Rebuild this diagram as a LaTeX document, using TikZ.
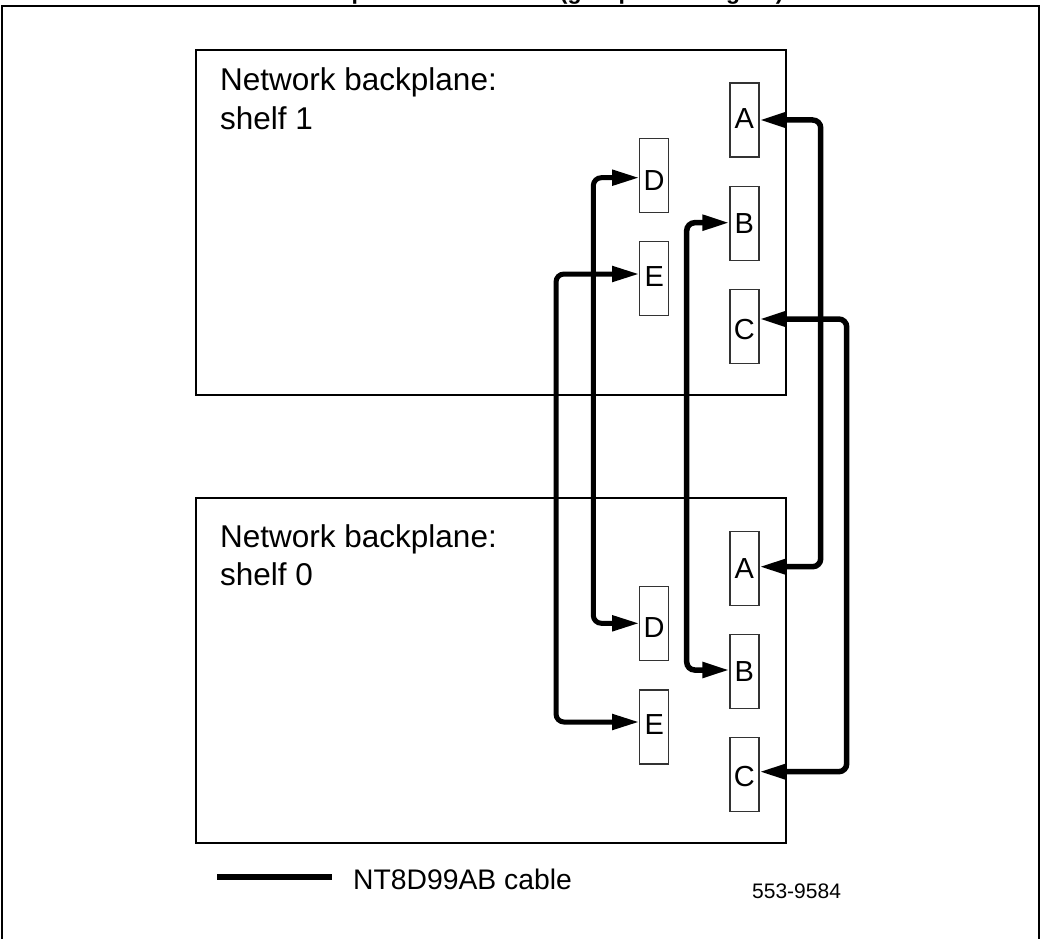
\documentclass[tikz,border=0pt]{standalone}
\usepackage{fontspec}
\setmainfont{Liberation Sans}
\usetikzlibrary{arrows.meta}
\tikzset{
  frameline/.style={line width=2pt,black},
  shelfbox/.style={draw=black,line width=2pt,fill=none,inner sep=0pt,minimum width=590.5pt,anchor=north west},
  port/.style={draw=black!80,line width=1.2pt,fill=white,inner sep=0pt,minimum width=29pt,minimum height=74pt,font=\fontsize{29}{29}\selectfont,text depth=0pt},
  cable/.style={line width=#1,black,rounded corners=8pt,{Triangle[length=27pt,width=15pt]}-{Triangle[length=27pt,width=15pt]}},
  shelflabel/.style={inner sep=0pt,anchor=north west,align=left,font=\fontsize{31.5}{38.5}\selectfont},
}
\begin{document}
\begin{tikzpicture}[x=1pt,y=-1pt]
\useasboundingbox (0,0) rectangle (1044,939);
\begin{scope}
\clip (0,0) rectangle (1044,939);
\node[inner sep=0pt,anchor=base west,font=\fontsize{23}{23}\selectfont\bfseries] (title) at (236.4,0) {Shelf backplane connections (group 4 and higher)};
\end{scope}
\draw[frameline] (2,940) -- (2,6) -- (1039,6) -- (1039,940);
\node[shelfbox,minimum height=344.5pt] (shelfA) at (194.7,49.5) {};
\node[shelfbox,minimum height=345pt] (shelfB) at (194.7,497) {};
\node[shelflabel] (shelfAt) at (220,67.5) {Network backplane:\\shelf 1};
\node[shelflabel] (shelfBt) at (220,524) {Network backplane:\\shelf 0};
% ports, upper shelf
\node[port,text height=18pt] (a1) at (744.4,120) {A};
\node[port,text height=20pt] (b1) at (744.4,223.3) {B};
\node[port,text height=26pt] (c1) at (744.4,326.3) {C};
\node[port,text height=29pt] (d1) at (654.2,175.5) {D};
\node[port,text height=15pt] (e1) at (654.2,278.7) {E};
% ports, lower shelf
\node[port,text height=20pt] (a0) at (744.4,568.3) {A};
\node[port,text height=20pt] (b0) at (744.4,671.5) {B};
\node[port,text height=24pt] (c0) at (744.4,774.8) {C};
\node[port,text height=27pt] (d0) at (654.2,623.8) {D};
\node[port,text height=15pt] (e0) at (654.2,727) {E};
% elbows
\coordinate (ka1) at (820.7,120);
\coordinate (ka0) at (820.7,566.7);
\coordinate (kb1) at (686.7,222.7);
\coordinate (kb0) at (686.7,670);
\coordinate (kc1) at (846.7,319);
\coordinate (kc0) at (846.7,771.7);
\coordinate (kd1) at (593.3,177.7);
\coordinate (kd0) at (593.3,623.3);
\coordinate (ke1) at (556,274);
\coordinate (ke0) at (556,722);
% cables
\draw[cable=5.5pt] (a1.east |- ka1) -- (ka1) -- (ka0) -- (a0.east |- ka0);
\draw[cable=5.5pt] (c1.east |- kc1) -- (kc1) -- (kc0) -- (c0.east |- kc0);
\draw[cable=5.5pt] (b1.west |- kb1) -- (kb1) -- (kb0) -- (b0.west |- kb0);
\draw[cable=5pt] (d1.west |- kd1) -- (kd1) -- (kd0) -- (d0.west |- kd0);
\draw[cable=5pt] (e1.west |- ke1) -- (ke1) -- (ke0) -- (e0.west |- ke0);
% legend
\coordinate (lg1) at (217,877);
\coordinate (lg2) at (332,877);
\draw[line width=6pt] (lg1) -- (lg2);
\node[inner sep=0pt,anchor=base west,font=\fontsize{28.3}{28.3}\selectfont] (lgt) at (353,889) {NT8D99AB cable};
\node[inner sep=0pt,anchor=base west,font=\fontsize{21}{21}\selectfont] (fig) at (752,898) {553-9584};
\end{tikzpicture}
\end{document}
